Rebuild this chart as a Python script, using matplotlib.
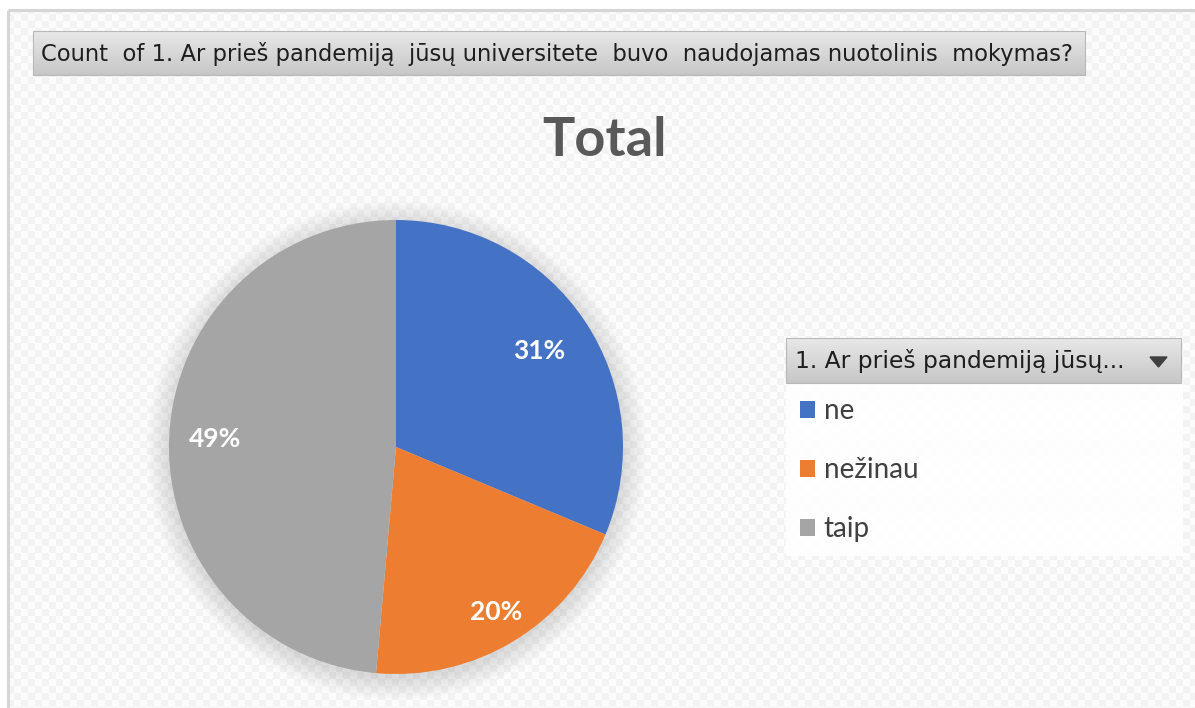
import numpy as np
import matplotlib.pyplot as plt
from matplotlib.patches import Rectangle, Polygon

labels = ['ne', 'nežinau', 'taip']
shares = [31.3, 20.1, 48.6]
colors = ['#4472C4', '#ED7D31', '#A5A5A5']
label_dist = [0.76, 0.85, 0.80]

header_text = 'Count  of 1. Ar prieš pandemiją  jūsų universitete  buvo  naudojamas nuotolinis  mokymas?'
legend_title = '1. Ar prieš pandemiją jūsų...'
chart_title = 'Total'

W, H = 1195, 708
fig = plt.figure(figsize=(W / 100, H / 100), dpi=100)

# background layer in pixel coordinates
bg = fig.add_axes([0, 0, 1, 1])
bg.set_xlim(0, W)
bg.set_ylim(H, 0)
bg.axis('off')

# checker texture + soft shadow around the pie
cx, cy, r = 396, 447, 227
yy, xx = np.mgrid[0:H, 0:W]
img = np.where(((xx // 7) + (yy // 7)) % 2 == 0, 0.99, 0.955)
d = np.hypot(xx - cx, (yy - cy - 3))
shade = 0.13 * np.clip(1 - (d - r) / 24, 0, 1)
img = img * (1 - shade)
img[:10, :] = 1.0
img[:, :8] = 1.0
bg.imshow(np.dstack([img] * 3), extent=(0, W, H, 0), interpolation='nearest',
          aspect='auto', zorder=0)

# outer frame
bg.plot([8, W], [10, 10], color='#d6d6d6', lw=2.2, zorder=1, solid_capstyle='butt')
bg.plot([8, 8], [10, H], color='#d6d6d6', lw=2.2, zorder=1, solid_capstyle='butt')


def gradient_box(x0, x1, y0, y1):
    grad = np.linspace(0.91, 0.78, 50)[:, None]
    bg.imshow(np.dstack([grad] * 3), extent=(x0, x1, y1, y0), aspect='auto', zorder=2)
    bg.add_patch(Rectangle((x0, y0), x1 - x0, y1 - y0, fill=False,
                           edgecolor='#b8b8b8', lw=0.8, zorder=3))


def fit_text(x, y, s, target, size):
    t = bg.text(x, y, s, ha='left', va='center', fontsize=size,
                color='#1e1e1e', family='DejaVu Sans', zorder=4)
    fig.canvas.draw()
    w = t.get_window_extent().width
    t.set_fontsize(size * target / w)
    return t


# field button above the chart
gradient_box(33, 1085, 31, 75)
fit_text(41, 54, header_text, 1033, 15)

# title
bg.text(605, 141, chart_title, ha='center', va='center', fontsize=39,
        fontweight='bold', color='#595959', family='Lato', zorder=4)

# legend box
gradient_box(786, 1181, 338, 383)
fit_text(795, 361, legend_title, 330, 15)
bg.add_patch(Polygon([[1150, 357], [1167, 357], [1158.5, 367]], closed=True,
                     color='#404040', zorder=4))
bg.add_patch(Rectangle((786, 384), 397, 172, facecolor='white', alpha=0.85,
                       edgecolor='none', zorder=2))

# pie
pax = fig.add_axes([(cx - r) / W, 1 - (cy + r) / H, 2 * r / W, 2 * r / H])
wedges, _, autotexts = pax.pie(
    shares, colors=colors, startangle=90, counterclock=False,
    autopct='%.0f%%', wedgeprops=dict(linewidth=0),
    textprops=dict(color='white', fontsize=19, fontweight='bold', family='Lato'))
for w, t, dist in zip(wedges, autotexts, label_dist):
    ang = np.deg2rad((w.theta1 + w.theta2) / 2)
    t.set_position((dist * np.cos(ang), dist * np.sin(ang)))
pax.set_xlim(-1, 1)
pax.set_ylim(-1, 1)

leg = fig.legend(wedges, labels, loc='upper left',
                 bbox_to_anchor=(800 / W, 1 - 398 / H), frameon=False,
                 borderpad=0, borderaxespad=0,
                 handlelength=0.55, handleheight=0.55, handletextpad=0.3,
                 labelspacing=1.19, prop=dict(family='Lato', size=20))
for t in leg.get_texts():
    t.set_color('#404040')

fig.savefig('out.png', dpi=100)
